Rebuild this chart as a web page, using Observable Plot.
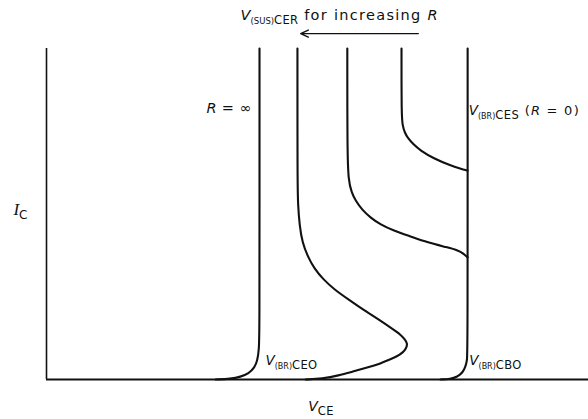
<!DOCTYPE html>
<html>
<head>
<meta charset="utf-8">
<script src="https://cdn.jsdelivr.net/npm/d3@7"></script>
<script src="https://cdn.jsdelivr.net/npm/@observablehq/plot@0.6"></script>
<style>
  html, body { margin: 0; padding: 0; background: #fff; }
  #chart svg { display: block; }
</style>
</head>
<body>
<div id="chart"></div>
<script>
// ---- Data (arbitrary V_CE / I_C units, 0–100) ----
// R = ∞ curve, V(BR)CEO
const ceoV = [39.3, 39.3, 39.3, 39.2, 38.9, 38.4, 37.3, 35.8, 34.0, 31.2];
const ceoI = [100, 54.0, 14.8, 8.8, 5.7, 3.6, 1.8, 0.8, 0.2, 0];
// large R curve (sustaining with negative-resistance loop)
const r1V = [46.3, 46.3, 46.4, 46.7, 47.2, 48.2, 49.4, 51.1, 53.1, 55.7, 58.7, 61.6, 64.0, 65.3, 66.1, 66.6, 66.4, 65.8, 64.6, 63.1, 61.6, 59.2, 56.5, 53.9, 50.9, 47.8];
const r1I = [100, 60.1, 52.6, 46.5, 41.4, 37.2, 33.5, 30.2, 27.2, 24.2, 20.8, 17.8, 15.1, 13.6, 12.2, 10.9, 9.5, 8.2, 6.9, 5.9, 4.8, 3.6, 2.4, 1.2, 0.3, 0];
// medium R curve
const r2V = [55.5, 55.5, 55.7, 56.3, 57.0, 58.3, 59.8, 61.6, 64.0, 67.2, 70.3, 74.0, 76.0, 76.9, 77.7];
const r2I = [100, 69.2, 60.1, 56.5, 54.1, 51.1, 48.9, 46.8, 45.0, 43.2, 41.4, 39.9, 39.0, 38.1, 36.9];
// small R curve
const r3V = [65.5, 65.5, 65.7, 66.1, 66.6, 67.7, 69.0, 71.4, 74.5, 76.4, 77.7];
const r3I = [100, 79.8, 76.7, 74.6, 73.1, 71.0, 69.2, 66.8, 64.7, 63.7, 63.1];
// R = 0 / V(BR)CBO curve
const cboV = [77.7, 77.7, 77.6, 77.3, 76.8, 75.8, 74.5, 72.7];
const cboI = [100, 8.8, 5.7, 3.9, 2.1, 0.8, 0.15, 0];

const curveNames = ["CEO", "R1", "R2", "R3", "CBO"];
const curveVs = [ceoV, r1V, r2V, r3V, cboV];
const curveIs = [ceoI, r1I, r2I, r3I, cboI];

// Labels
const labelTexts = ["V(SUS)CER for increasing R", "R = ∞", "V(BR)CES (R = 0)", "V(BR)CEO", "V(BR)CBO", "IC", "VCE"];
const labelV = [35.8, 38.0, 77.9, 40.4, 78.0, -6.1, 48.3];
const labelI = [110.0, 81.9, 81.3, 5.7, 5.7, 51.1, -8.2];
const labelAnchor = ["start", "end", "start", "start", "start", "start", "start"];

// Arrow ("for increasing R")
const arrowFromV = [68.6], arrowToV = [46.9], arrowI = [104.5];

// ---- Build tables ----
const points = [];
curveNames.forEach((name, k) => {
  curveVs[k].forEach((v, i) => points.push({curve: name, v, i: curveIs[k][i]}));
});
const labels = labelTexts.map((t, k) => ({t, v: labelV[k], i: labelI[k], a: labelAnchor[k]}));
const arrows = arrowFromV.map((v1, k) => ({v1, v2: arrowToV[k], i: arrowI[k]}));

const FONT = "DejaVu Sans, sans-serif";

const plot = Plot.plot({
  width: 588,
  height: 419,
  marginLeft: 46,
  marginRight: 0,
  marginTop: 48,
  marginBottom: 40,
  style: {fontFamily: FONT, background: "#fff", overflow: "visible"},
  x: {domain: [0, 100], axis: null},
  y: {domain: [0, 100], axis: null},
  marks: [
    Plot.ruleX([0], {stroke: "#111", strokeWidth: 1.6}),
    Plot.ruleY([0], {stroke: "#111", strokeWidth: 2.2}),
    Plot.line(points, {x: "v", y: "i", z: "curve", curve: "basis", stroke: "#111", strokeWidth: 2.1}),
    Plot.arrow(arrows, {x1: "v1", x2: "v2", y1: "i", y2: "i", stroke: "#111", strokeWidth: 1.4, headLength: 9, headAngle: 50}),
    ...["start", "end"].map(a => Plot.text(labels.filter(d => d.a === a), {
      x: "v", y: "i", text: "t", textAnchor: a, fill: "#111", fontSize: 13
    }))
  ]
});
document.getElementById("chart").appendChild(plot);

// ---- Rich formatting of label texts (italic main letters, subscripts) ----
// [text, kind, font size, letter spacing]
const rich = {
  "V(SUS)CER for increasing R": [["V", "i", 14.5, 0], ["(SUS)", "s", 8.5, 0], ["CER", "s", 11.5, 0.3], [" for increasing ", "n", 14.5, 1.3], ["R", "i", 14.5, 0]],
  "R = ∞": [["R", "i", 14.5, 0], [" = ∞", "n", 14.5, 0.6]],
  "V(BR)CES (R = 0)": [["V", "i", 13.5, 0], ["(BR)", "s", 8, 0], ["CES", "s", 11.5, 0.5], [" (", "n", 13, 1.2], ["R", "i", 13, 1], [" = 0)", "n", 13, 1.3]],
  "V(BR)CEO": [["V", "i", 13.5, 0], ["(BR)", "s", 8, 0], ["CEO", "s", 11.5, 0.4]],
  "V(BR)CBO": [["V", "i", 13.5, 0], ["(BR)", "s", 8, 0], ["CBO", "s", 11.5, 0.4]],
  "IC": [["I", "is", 17, 0], ["C", "s", 12, 0]],
  "VCE": [["V", "i", 14, 0], ["CE", "s", 11.5, 0.3]]
};
const SUB = 4;
plot.querySelectorAll("text").forEach(el => {
  const parts = rich[el.textContent];
  if (!parts) return;
  while (el.firstChild) el.removeChild(el.firstChild);
  let shift = 0;
  parts.forEach(([txt, kind, size, ls]) => {
    const ts = document.createElementNS("http://www.w3.org/2000/svg", "tspan");
    ts.textContent = txt;
    ts.setAttribute("font-size", size);
    if (ls) ts.setAttribute("letter-spacing", ls);
    if (kind === "i") ts.setAttribute("font-style", "italic");
    if (kind === "is") { ts.setAttribute("font-style", "italic"); ts.setAttribute("font-family", "Liberation Serif, serif"); }
    const target = kind === "s" ? SUB : 0;
    if (target !== shift) { ts.setAttribute("dy", target - shift); shift = target; }
    el.appendChild(ts);
  });
});
</script>
</body>
</html>
